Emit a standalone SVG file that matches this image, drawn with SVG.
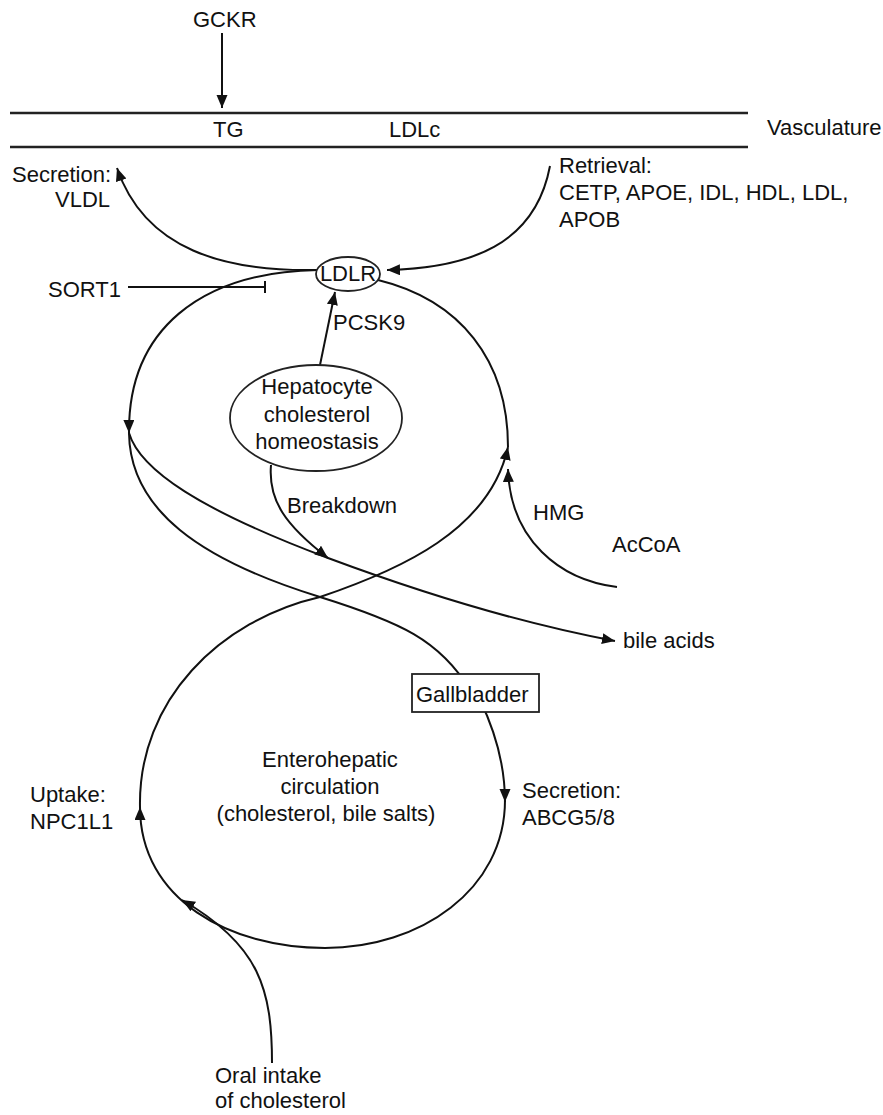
<svg xmlns="http://www.w3.org/2000/svg" width="883" height="1115" viewBox="0 0 883 1115">
<style>
text{font-family:"Liberation Sans",Arial,sans-serif;font-size:22px;fill:#111}
.c{text-anchor:middle}
.ln{fill:none;stroke:#111;stroke-width:2}
.node{fill:#fff;stroke:#222;stroke-width:1.8}
</style>
<defs>
<marker id="ah" markerUnits="userSpaceOnUse" markerWidth="15" markerHeight="13" refX="13" refY="5.5" orient="auto">
<path d="M0,0 L13,5.5 L0,11 z" fill="#111"/>
</marker>
</defs>
<rect width="883" height="1115" fill="#fff"/>
<g id="vasculature">
<line x1="10" y1="113" x2="748" y2="113" stroke="#222" stroke-width="2.5"/>
<line x1="10" y1="147" x2="748" y2="147" stroke="#222" stroke-width="2.5"/>
<text x="213" y="137">TG</text>
<text x="389" y="137">LDLc</text>
<text x="767" y="135">Vasculature</text>
</g>
<g id="connectors">
<line class="ln" x1="222" y1="33" x2="222" y2="108" marker-end="url(#ah)"/>
<path class="ln" d="M318,270 C225,272 145,250 117,168" marker-end="url(#ah)"/>
<path class="ln" d="M550,166 C535,245 470,268 387,270" marker-end="url(#ah)"/>
<path class="ln" d="M318,270 C200,272 128,330 129,433" marker-end="url(#ah)"/>
<path class="ln" d="M129,433 C140,470 200,510 328,558 C430,596 530,625 615,641" marker-end="url(#ah)"/>
<path class="ln" d="M129,433 C130,510 200,560 320,597 C400,622 440,640 470,690"/>
<path class="ln" d="M480,700 C497,735 505,770 505,802" marker-end="url(#ah)"/>
<path class="ln" d="M505,800 C505,890 420,948 325,948 C230,948 140,900 140,807" marker-end="url(#ah)"/>
<path class="ln" d="M140,807 C138,700 220,620 320,597 C400,570 490,530 508,447" marker-end="url(#ah)"/>
<path class="ln" d="M508,447 C508,360 460,300 378,280"/>
<path class="ln" d="M617,587 C560,580 510,540 508,469" marker-end="url(#ah)"/>
<path class="ln" d="M271,465 C268,500 285,525 328,558" marker-end="url(#ah)"/>
<line class="ln" x1="320" y1="365" x2="335" y2="292" marker-end="url(#ah)"/>
<path class="ln" d="M272,1063 C272,990 260,945 182,900" marker-end="url(#ah)"/>
<line class="ln" x1="128" y1="287" x2="265" y2="287"/>
<line class="ln" x1="265" y1="281" x2="265" y2="293"/>
</g>
<g id="gckr"><text x="193" y="27">GCKR</text></g>
<g id="secretion-vldl"><text x="12" y="182">Secretion:</text><text x="55" y="207">VLDL</text></g>
<g id="retrieval"><text x="559" y="173">Retrieval:</text><text x="559" y="200">CETP, APOE, IDL, HDL, LDL,</text><text x="559" y="227">APOB</text></g>
<g id="ldlr"><ellipse class="node" cx="348" cy="274" rx="32" ry="17"/><text class="c" x="348" y="281">LDLR</text></g>
<g id="sort1"><text x="48" y="297">SORT1</text></g>
<g id="pcsk9"><text x="333" y="330">PCSK9</text></g>
<g id="hepatocyte"><ellipse class="node" cx="316" cy="418" rx="86" ry="53"/><text class="c" x="317" y="394">Hepatocyte</text><text class="c" x="317" y="422">cholesterol</text><text class="c" x="317" y="449">homeostasis</text></g>
<g id="breakdown"><text x="287" y="513">Breakdown</text></g>
<g id="hmg"><text x="533" y="520">HMG</text></g>
<g id="accoa"><text x="612" y="552">AcCoA</text></g>
<g id="bile-acids"><text x="623" y="648">bile acids</text></g>
<g id="gallbladder"><rect class="node" x="412" y="674" width="127" height="38"/><text x="416" y="702">Gallbladder</text></g>
<g id="enterohepatic"><text class="c" x="330" y="767">Enterohepatic</text><text class="c" x="330" y="794">circulation</text><text class="c" x="326" y="821">(cholesterol, bile salts)</text></g>
<g id="uptake"><text x="30" y="802">Uptake:</text><text x="30" y="829">NPC1L1</text></g>
<g id="secretion-abcg"><text x="522" y="798">Secretion:</text><text x="522" y="825">ABCG5/8</text></g>
<g id="oral-intake"><text x="215" y="1083">Oral intake</text><text x="215" y="1108">of cholesterol</text></g>
</svg>
